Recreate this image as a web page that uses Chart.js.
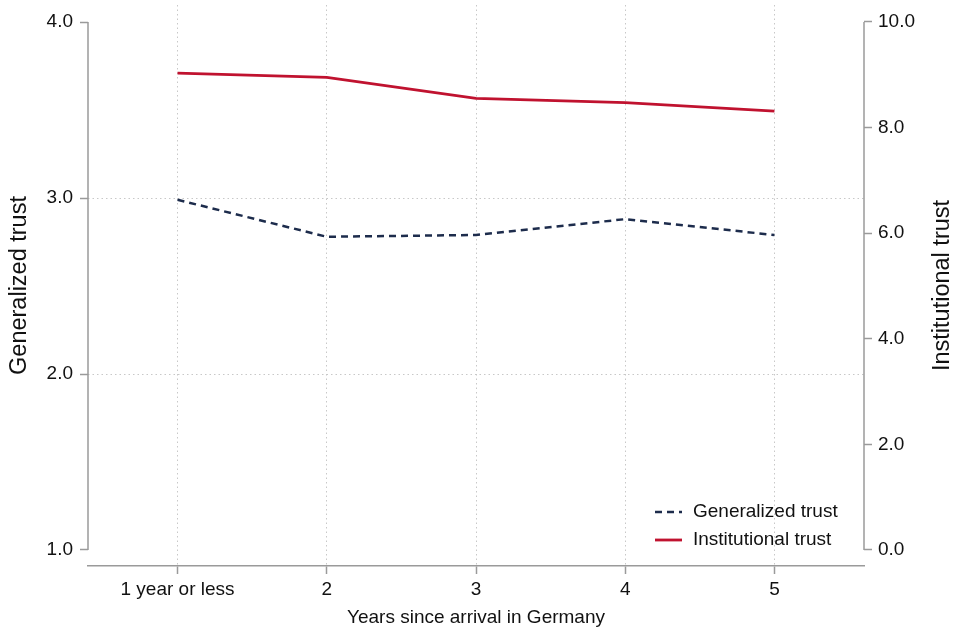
<!DOCTYPE html>
<html lang="en">
<head>
  <meta charset="UTF-8" />
  <title>Trust by years since arrival</title>
  <script src="https://cdn.jsdelivr.net/npm/chart.js"></script>
  <style>
    html, body { margin: 0; padding: 0; background: #fff; }
    #wrap { width: 956px; height: 631px; }
  </style>
</head>
<body>
  <div id="wrap"><canvas id="trustChart" width="956" height="631"></canvas></div>

  <script>
    // data
    const years = [1, 2, 3, 4, 5];
    const yearLabels = ['1 year or less', '2', '3', '4', '5'];
    const generalizedTrust = [2.99, 2.78, 2.79, 2.88, 2.79];
    const institutionalTrust = [9.03, 8.95, 8.55, 8.47, 8.31];
    const leftTicks = [1, 2, 3, 4];
    const rightTicks = [0, 2, 4, 6, 8, 10];

    const FONT = "'Liberation Sans', Arial, Helvetica, sans-serif";
    const AXIS = '#9a9a9a';
    const GRID = '#c8c8c8';

    // Stata-style axis lines: only between first and last tick,
    // plus the right title, which reads bottom-to-top like the left one
    const axisLines = {
      id: 'axisLines',
      afterDraw(chart) {
        const ctx = chart.ctx;
        ctx.save();
        ctx.strokeStyle = AXIS;
        ctx.lineWidth = 1.5;
        [['y', leftTicks], ['y2', rightTicks]].forEach(([id, t]) => {
          const s = chart.scales[id];
          const x = id === 'y' ? s.right : s.left;
          ctx.beginPath();
          ctx.moveTo(x, s.getPixelForValue(t[0]));
          ctx.lineTo(x, s.getPixelForValue(t[t.length - 1]));
          ctx.stroke();
        });
        const r = chart.scales.y2;
        ctx.translate(943, (r.top + r.bottom) / 2);
        ctx.rotate(-Math.PI / 2);
        ctx.font = '23.5px ' + FONT;
        ctx.fillStyle = '#111';
        ctx.textAlign = 'center';
        ctx.textBaseline = 'middle';
        ctx.fillText('Institutional trust', 0, 0);
        ctx.restore();
      }
    };

    // legend inside the plot, bottom right
    const innerLegend = {
      id: 'innerLegend',
      afterDraw(chart) {
        const ctx = chart.ctx;
        const x0 = 655, y0 = 512, rowH = 28;
        ctx.save();
        ctx.font = '19px ' + FONT;
        ctx.textBaseline = 'middle';
        ctx.fillStyle = '#111';
        chart.data.datasets.forEach((ds, i) => {
          const y = y0 + i * rowH;
          ctx.strokeStyle = ds.borderColor;
          ctx.lineWidth = ds.borderWidth;
          ctx.setLineDash(ds.borderDash || []);
          ctx.beginPath();
          ctx.moveTo(x0, y);
          ctx.lineTo(x0 + 27, y);
          ctx.stroke();
          ctx.setLineDash([]);
          ctx.fillText(ds.label, x0 + 38, y);
        });
        ctx.restore();
      }
    };

    const noPad = s => { s.paddingTop = 0; s.paddingBottom = 0; s.paddingLeft = 0; s.paddingRight = 0; };

    new Chart(document.getElementById('trustChart'), {
      type: 'line',
      data: {
        datasets: [
          {
            label: 'Generalized trust',
            data: years.map((x, i) => ({ x, y: generalizedTrust[i] })),
            yAxisID: 'y',
            borderColor: '#1d2c4c',
            borderWidth: 2.5,
            borderDash: [7, 5],
            pointRadius: 0,
            tension: 0
          },
          {
            label: 'Institutional trust',
            data: years.map((x, i) => ({ x, y: institutionalTrust[i] })),
            yAxisID: 'y2',
            borderColor: '#c0122f',
            borderWidth: 2.8,
            pointRadius: 0,
            tension: 0
          }
        ]
      },
      options: {
        responsive: false,
        animation: false,
        layout: { padding: { top: 5, left: 0, right: 0, bottom: 0 } },
        plugins: {
          legend: { display: false },
          tooltip: { enabled: false }
        },
        scales: {
          x: {
            type: 'linear',
            min: 0.4,
            max: 5.6,
            afterBuildTicks: s => { s.ticks = years.map(v => ({ value: v })); },
            afterFit: s => { s.height = 65; noPad(s); },
            ticks: {
              color: '#111',
              font: { family: FONT, size: 19 },
              padding: 4,
              maxRotation: 0,
              autoSkip: false,
              callback: v => yearLabels[years.indexOf(v)]
            },
            grid: {
              color: GRID,
              lineWidth: 1,
              tickColor: AXIS,
              tickLength: 8,
              tickWidth: 1.5
            },
            border: { display: true, color: AXIS, width: 1.5, dash: [1.5, 3] },
            title: {
              display: true,
              text: 'Years since arrival in Germany',
              color: '#111',
              font: { family: FONT, size: 19 },
              padding: { top: 0, bottom: 2 }
            }
          },
          y: {
            position: 'left',
            min: 0.909,
            max: 4.097,
            afterBuildTicks: s => { s.ticks = leftTicks.map(v => ({ value: v })); },
            afterFit: s => { s.width = 88; noPad(s); },
            ticks: {
              color: '#111',
              font: { family: FONT, size: 19 },
              padding: 7,
              callback: v => v.toFixed(1)
            },
            grid: {
              color: c => (c.tick && (c.tick.value === 2 || c.tick.value === 3)) ? GRID : 'rgba(0,0,0,0)',
              tickColor: AXIS,
              tickLength: 8,
              tickWidth: 1.5
            },
            border: { display: false, dash: [1.5, 3] },
            title: {
              display: true,
              text: 'Generalized trust',
              color: '#111',
              font: { family: FONT, size: 23.5 },
              padding: { top: 5, bottom: 0 }
            }
          },
          y2: {
            position: 'right',
            min: -0.303,
            max: 10.32,
            afterBuildTicks: s => { s.ticks = rightTicks.map(v => ({ value: v })); },
            afterFit: s => { s.width = 92; noPad(s); },
            ticks: {
              color: '#111',
              font: { family: FONT, size: 19 },
              padding: 6,
              callback: v => v.toFixed(1)
            },
            grid: {
              drawOnChartArea: false,
              tickColor: AXIS,
              tickLength: 8,
              tickWidth: 1.5
            },
            border: { display: false },
            title: { display: false }
          }
        }
      },
      plugins: [axisLines, innerLegend]
    });
  </script>
</body>
</html>
